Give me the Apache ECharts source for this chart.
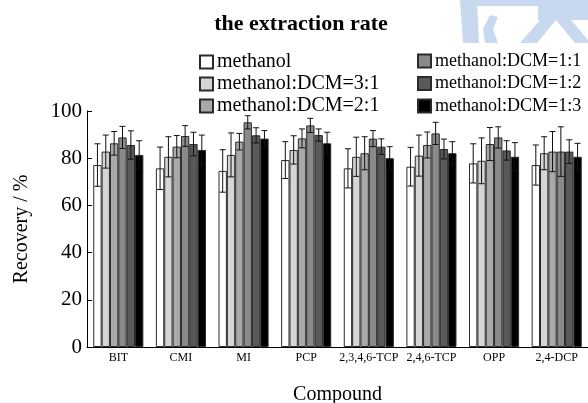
<!DOCTYPE html>
<html><head><meta charset="utf-8">
<script src="https://cdn.jsdelivr.net/npm/echarts@6/dist/echarts.min.js"></script>
<style>html,body{margin:0;padding:0;background:#fff}#c{width:588px;height:403px}</style>
</head><body><div id="c"></div>
<script>
const categories = ['BIT','CMI','MI','PCP','2,3,4,6-TCP','2,4,6-TCP','OPP','2,4-DCP'];
const seriesNames = ['methanol','methanol:DCM=3:1','methanol:DCM=2:1','methanol:DCM=1:1','methanol:DCM=1:2','methanol:DCM=1:3'];
const methanol      = [77.1, 75.7, 74.6, 79.2, 75.7, 76.4, 77.8, 77.1];
const dcm3_1        = [82.8, 80.6, 81.4, 83.5, 80.6, 81.1, 78.9, 82.1];
const dcm2_1        = [86.3, 84.9, 87.0, 88.4, 82.1, 85.6, 86.0, 82.8];
const dcm1_1        = [88.8, 89.4, 95.2, 93.9, 88.3, 90.5, 88.8, 82.8];
const dcm1_2        = [85.6, 86.0, 89.7, 89.8, 84.9, 83.9, 83.3, 82.8];
const dcm1_3        = [81.4, 83.5, 88.3, 86.3, 80.0, 82.1, 80.6, 80.6];
const errMethanol   = [9.0, 9.0, 9.0, 7.8, 8.3, 8.2, 8.3, 8.5];
const err3_1        = [7.0, 8.5, 9.3, 6.0, 8.3, 8.7, 9.7, 7.0];
const err2_1        = [5.0, 4.7, 3.5, 4.0, 7.0, 5.5, 7.0, 8.5];
const err1_1        = [4.7, 4.4, 2.8, 3.0, 3.4, 4.7, 4.5, 10.5];
const err1_2        = [6.0, 5.0, 3.2, 2.6, 3.3, 4.2, 4.1, 5.0];
const err1_3        = [6.0, 6.3, 3.4, 4.7, 4.9, 4.9, 6.0, 5.7];
const yTicks = [0, 20, 40, 60, 80, 100];

const means = [methanol, dcm3_1, dcm2_1, dcm1_1, dcm1_2, dcm1_3];
const errs = [errMethanol, err3_1, err2_1, err1_1, err1_2, err1_3];
const colors = ['#ffffff','#d5d5d5','#a9a9a9','#8a8a8a','#595959','#000000'];
const FONT = '"Liberation Serif", "DejaVu Serif", serif';
const NS = seriesNames.length;
const GAP = 0.2;

const barSeries = seriesNames.map((n, i) => ({
  name: n, type: 'bar', data: means[i], barGap: '0%', barCategoryGap: '20%',
  itemStyle: { color: colors[i], borderColor: '#2a2a2a', borderWidth: 1 },
  emphasis: { disabled: true }, z: 2
}));

const errSeries = seriesNames.map((n, i) => ({
  type: 'custom', name: n + ' err', z: 5, silent: true,
  data: categories.map((c, k) => [k, means[i][k], errs[i][k]]),
  renderItem: function (params, api) {
    const k = api.value(0), m = api.value(1), e = api.value(2);
    const band = api.size([1, 0])[0];
    const bw = band * (1 - GAP) / NS;
    const c = api.coord([k, m]);
    const x = c[0] + (i - (NS - 1) / 2) * bw;
    const top = api.coord([k, m + e])[1];
    const bot = api.coord([k, m - e])[1];
    const hw = 3;
    const st = { stroke: '#111', lineWidth: 1 };
    return { type: 'group', children: [
      { type: 'line', shape: { x1: x, y1: top, x2: x, y2: bot }, style: st },
      { type: 'line', shape: { x1: x - hw, y1: top, x2: x + hw, y2: top }, style: st },
      { type: 'line', shape: { x1: x - hw, y1: bot, x2: x + hw, y2: bot }, style: st }
    ]};
  }
}));

function legendCfg(names, left, fontSize, gap) {
  return {
    data: names, left: left, top: 52,
    orient: 'vertical', itemWidth: 13, itemHeight: 13, itemGap: gap, icon: 'rect',
    textStyle: { fontFamily: FONT, fontSize: fontSize, color: '#000', lineHeight: 18, padding: [0,0,0,-1] },
    selectedMode: false, padding: 0
  };
}

const wm = '#c8d8ee';
const chart = echarts.init(document.getElementById('c'), null, { renderer: 'canvas' });
chart.setOption({
  animation: false,
  backgroundColor: '#fff',
  title: { text: 'the extraction rate', left: 296, top: 8, textAlign: 'center',
    textStyle: { fontFamily: FONT, fontSize: 22, fontWeight: 'bold', color: '#000' } },
  legend: [
    legendCfg(seriesNames.slice(0, 3), 199, 20, 2),
    legendCfg(seriesNames.slice(3), 417, 18, 4.5)
  ],
  graphic: [
    { type: 'polygon', z: -10, shape: { points: [[460,0],[477,0],[479,43],[463,43]] }, style: { fill: wm } },
    { type: 'rect', z: -10, shape: { x: 477, y: 0, width: 111, height: 6 }, style: { fill: wm } },
    { type: 'polygon', z: -10, shape: { points: [[490,15],[498,17],[493,29],[498,43],[485,43],[483,29]] }, style: { fill: wm } },
    { type: 'polygon', z: -10, shape: { points: [[538,6],[588,6],[588,20],[538,20]] }, style: { fill: wm } },
    { type: 'polygon', z: -10, shape: { points: [[540,20],[556,20],[537,43],[520,43]] }, style: { fill: wm } },
    { type: 'polygon', z: -10, shape: { points: [[556,20],[571,20],[588,40],[588,43],[575,43]] }, style: { fill: wm } }
  ],
  grid: { left: 87, right: 0, top: 111, bottom: 56, containLabel: false, outerBoundsMode: 'none' },
  xAxis: {
    type: 'category', data: categories,
    name: 'Compound', nameLocation: 'middle', nameGap: 38,
    nameTextStyle: { fontFamily: FONT, fontSize: 20, color: '#000' },
    axisLine: { lineStyle: { color: '#000', width: 1 } },
    axisTick: { inside: true, length: 5, lineStyle: { color: '#000' } },
    axisLabel: { fontFamily: FONT, fontSize: 12, color: '#000', margin: 5, interval: 0 },
    splitLine: { show: false }
  },
  yAxis: {
    type: 'value', min: yTicks[0], max: yTicks[yTicks.length - 1], interval: 20,
    name: 'Recovery / %', nameLocation: 'middle', nameGap: 55, nameRotate: 90,
    nameTextStyle: { fontFamily: FONT, fontSize: 20, color: '#000' },
    axisLine: { show: true, lineStyle: { color: '#000', width: 1 } },
    axisTick: { show: true, inside: true, length: 5, lineStyle: { color: '#000' } },
    axisLabel: { fontFamily: FONT, fontSize: 21, color: '#000', margin: 5 },
    splitLine: { show: false }
  },
  series: barSeries.concat(errSeries)
});
</script></body></html>
